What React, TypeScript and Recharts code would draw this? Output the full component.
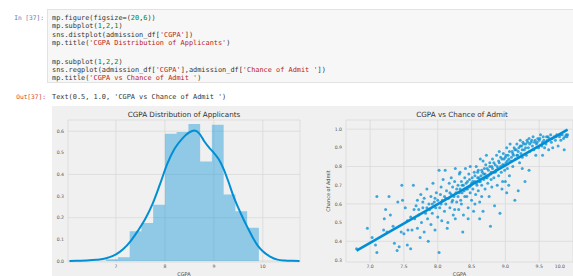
import {
  ComposedChart,
  Area,
  Line,
  ScatterChart,
  Scatter,
  XAxis,
  YAxis,
  CartesianGrid,
} from 'recharts';

// histogram of CGPA (density), 13 bins of 0.24
const binEdges = [6.8, 7.04, 7.28, 7.52, 7.76, 8.0, 8.24, 8.48, 8.72, 8.96, 9.2, 9.44, 9.68, 9.92];
const binDensity = [0.008, 0.017, 0.137, 0.176, 0.26, 0.588, 0.597, 0.634, 0.46, 0.63, 0.307, 0.23, 0.153];

// kde curve
const kdeX = [6.05, 6.2, 6.4, 6.6, 6.8, 7.0, 7.15, 7.3, 7.45, 7.6, 7.75, 7.9, 8.05, 8.2, 8.35, 8.5, 8.6, 8.7, 8.8, 8.9, 9.0, 9.1, 9.2, 9.3, 9.4, 9.5, 9.6, 9.7, 9.8, 9.9, 10.0, 10.15, 10.3, 10.45, 10.6, 10.75];
const kdeY = [0.0, 0.001, 0.002, 0.005, 0.012, 0.03, 0.055, 0.092, 0.14, 0.195, 0.265, 0.355, 0.45, 0.52, 0.565, 0.595, 0.603, 0.59, 0.555, 0.525, 0.5, 0.47, 0.425, 0.365, 0.3, 0.245, 0.195, 0.15, 0.106, 0.07, 0.045, 0.02, 0.006, 0.002, 0.0005, 0.0];

const distXTicks = [7, 8, 9, 10];
const distYTicks = [0, 0.1, 0.2, 0.3, 0.4, 0.5, 0.6];

// CGPA vs Chance of Admit
const admitPoints: [number, number][] = [
  [6.8, 0.36], [6.96, 0.47], [7.03, 0.42], [7.08, 0.38], [7.1, 0.64], [7.1, 0.34], [7.2, 0.46], [7.21, 0.52],
  [7.23, 0.57], [7.25, 0.45], [7.28, 0.64], [7.3, 0.54], [7.34, 0.48], [7.36, 0.39], [7.4, 0.35], [7.41, 0.61],
  [7.43, 0.37], [7.46, 0.45], [7.47, 0.7], [7.48, 0.62], [7.5, 0.44], [7.52, 0.58], [7.55, 0.38], [7.56, 0.46],
  [7.6, 0.36], [7.62, 0.46], [7.64, 0.7], [7.65, 0.57], [7.66, 0.52], [7.68, 0.59], [7.7, 0.47], [7.7, 0.62],
  [7.72, 0.54], [7.74, 0.42], [7.75, 0.65], [7.76, 0.5], [7.78, 0.58], [7.8, 0.45], [7.8, 0.63], [7.82, 0.55],
  [7.84, 0.68], [7.85, 0.52], [7.86, 0.4], [7.87, 0.6], [7.88, 0.57], [7.9, 0.64], [7.9, 0.49], [7.92, 0.55],
  [7.93, 0.71], [7.95, 0.61], [7.96, 0.46], [7.97, 0.58], [7.98, 0.66], [8.0, 0.53], [8.0, 0.62], [8.02, 0.34],
  [8.02, 0.78], [8.03, 0.58], [8.04, 0.65], [8.05, 0.69], [8.06, 0.51], [8.07, 0.62], [8.08, 0.73], [8.1, 0.56],
  [8.1, 0.64], [8.11, 0.78], [8.12, 0.6], [8.13, 0.67], [8.14, 0.47], [8.15, 0.5], [8.16, 0.63], [8.17, 0.71],
  [8.18, 0.58], [8.2, 0.65], [8.2, 0.74], [8.21, 0.61], [8.22, 0.69], [8.23, 0.54], [8.24, 0.64], [8.25, 0.72],
  [8.26, 0.52], [8.26, 0.79], [8.27, 0.66], [8.28, 0.61], [8.3, 0.7], [8.3, 0.64], [8.31, 0.57], [8.32, 0.76],
  [8.33, 0.68], [8.33, 0.77], [8.34, 0.62], [8.35, 0.72], [8.36, 0.66], [8.37, 0.45], [8.38, 0.54], [8.38, 0.7],
  [8.4, 0.64], [8.4, 0.74], [8.41, 0.79], [8.42, 0.68], [8.43, 0.64], [8.44, 0.72], [8.45, 0.58], [8.46, 0.76],
  [8.47, 0.69], [8.48, 0.66], [8.48, 0.8], [8.5, 0.71], [8.5, 0.62], [8.51, 0.74], [8.52, 0.68], [8.53, 0.56],
  [8.54, 0.77], [8.55, 0.72], [8.56, 0.65], [8.57, 0.8], [8.58, 0.7], [8.59, 0.74], [8.6, 0.67], [8.6, 0.78],
  [8.61, 0.72], [8.62, 0.61], [8.62, 0.52], [8.63, 0.84], [8.64, 0.75], [8.65, 0.7], [8.66, 0.77], [8.67, 0.56],
  [8.67, 0.83], [8.68, 0.73], [8.69, 0.79], [8.7, 0.68], [8.7, 0.76], [8.71, 0.81], [8.72, 0.86], [8.73, 0.74],
  [8.74, 0.71], [8.75, 0.78], [8.76, 0.64], [8.77, 0.82], [8.78, 0.76], [8.78, 0.48], [8.79, 0.73], [8.8, 0.8],
  [8.8, 0.69], [8.81, 0.84], [8.82, 0.77], [8.83, 0.74], [8.84, 0.59], [8.85, 0.81], [8.86, 0.78], [8.87, 0.86],
  [8.88, 0.7], [8.89, 0.79], [8.9, 0.83], [8.9, 0.75], [8.91, 0.88], [8.92, 0.55], [8.93, 0.8], [8.94, 0.77],
  [8.95, 0.84], [8.96, 0.72], [8.97, 0.87], [8.98, 0.81], [8.99, 0.78], [9.0, 0.72], [9.0, 0.85], [9.01, 0.82],
  [9.02, 0.9], [9.02, 0.66], [9.03, 0.79], [9.04, 0.86], [9.05, 0.84], [9.06, 0.75], [9.07, 0.92], [9.08, 0.83],
  [9.1, 0.88], [9.11, 0.8], [9.12, 0.86], [9.13, 0.9], [9.14, 0.62], [9.15, 0.84], [9.16, 0.89], [9.17, 0.92],
  [9.18, 0.86], [9.19, 0.67], [9.2, 0.9], [9.21, 0.82], [9.22, 0.94], [9.23, 0.87], [9.24, 0.91], [9.25, 0.85],
  [9.26, 0.93], [9.28, 0.89], [9.29, 0.72], [9.3, 0.92], [9.31, 0.86], [9.32, 0.94], [9.34, 0.9], [9.35, 0.95],
  [9.36, 0.88], [9.38, 0.93], [9.4, 0.91], [9.41, 0.96], [9.42, 0.89], [9.44, 0.94], [9.45, 0.86], [9.46, 0.92],
  [9.48, 0.95], [9.49, 0.9], [9.5, 0.94], [9.52, 0.97], [9.54, 0.91], [9.55, 0.93], [9.56, 0.96], [9.58, 0.9],
  [9.6, 0.92], [9.61, 0.96], [9.62, 0.94], [9.64, 0.89], [9.65, 0.95], [9.67, 0.97], [9.68, 0.93], [9.7, 0.9],
  [9.72, 0.96], [9.74, 0.94], [9.76, 0.97], [9.78, 0.91], [9.8, 0.96], [9.82, 0.94], [9.84, 0.97], [9.86, 0.95],
  [9.87, 0.89], [9.9, 0.97], [9.91, 0.96], [9.92, 0.97],
  // denser band along the fit
  [8.05, 0.6], [8.12, 0.63], [8.18, 0.66], [8.22, 0.62], [8.28, 0.68], [8.32, 0.66], [8.36, 0.7], [8.39, 0.67],
  [8.42, 0.71], [8.44, 0.68], [8.47, 0.73], [8.49, 0.7], [8.52, 0.72], [8.55, 0.75], [8.57, 0.71], [8.59, 0.77],
  [8.61, 0.74], [8.63, 0.72], [8.65, 0.78], [8.68, 0.76], [8.71, 0.74], [8.73, 0.79], [8.75, 0.75], [8.77, 0.8],
  [8.79, 0.77], [8.81, 0.79], [8.83, 0.82], [8.85, 0.77], [8.88, 0.8], [8.91, 0.82], [8.93, 0.85], [8.96, 0.81],
  [8.98, 0.84], [9.01, 0.86], [9.03, 0.83], [9.06, 0.88], [9.09, 0.85], [9.11, 0.87], [9.14, 0.89], [9.17, 0.86],
  [9.19, 0.88], [9.22, 0.91], [9.25, 0.89], [9.27, 0.92], [9.3, 0.9], [9.33, 0.93], [9.36, 0.92], [9.39, 0.94],
  [9.43, 0.93], [9.47, 0.93], [9.51, 0.95], [9.57, 0.94], [9.63, 0.96], [9.69, 0.95], [9.75, 0.96], [9.81, 0.97],
  [9.88, 0.96], [7.92, 0.6], [7.96, 0.63], [7.84, 0.58], [7.78, 0.61], [7.72, 0.57], [7.6, 0.53], [7.55, 0.51],
  [8.45, 0.52], [8.55, 0.6], [8.65, 0.64], [8.95, 0.68], [9.05, 0.7], [9.35, 0.78], [9.55, 0.86], [9.25, 0.79],
  [8.35, 0.6], [8.25, 0.57],
];
const fitX = [6.8, 9.92];
const fitY = [0.35, 0.997];

const regXTicks = [7, 7.5, 8, 8.5, 9, 9.5, 10];
const regYTicks = [0.3, 0.4, 0.5, 0.6, 0.7, 0.8, 0.9, 1.0];

// one table for hist + kde (nulls connected per series)
const distRows = new Map<number, { x: number; hist?: number; kde?: number }>();
binEdges.forEach((e, i) => {
  distRows.set(e, { x: e, hist: binDensity[Math.min(i, binDensity.length - 1)] });
});
kdeX.forEach((x, i) => {
  const row = distRows.get(x) ?? { x };
  row.kde = kdeY[i];
  distRows.set(x, row);
});
const distTable = [...distRows.values()].sort((a, b) => a.x - b.x);

const scatterData = admitPoints.map(([x, y]) => ({ x, y }));
const fitData = fitX.map((x, i) => ({ x, y: fitY[i] }));

const BLUE = '#008fd5';
const FIG_BG = '#f0f0f0';
const tickStyle = { fill: '#555', fontSize: 4.6, fontFamily: 'DejaVu Sans' };

const MONO = '"DejaVu Sans Mono", monospace';
const STR = '#ba2121';
const NUM = '#008800';

type Seg = [string, string?];
const codeBlockA: Seg[][] = [
  [['mp.figure(figsize=('], ['20', NUM], [','], ['6', NUM], ['))']],
  [['mp.subplot('], ['1', NUM], [','], ['2', NUM], [','], ['1', NUM], [')']],
  [['sns.distplot(admission_df['], ["'CGPA'", STR], ['])']],
  [['mp.title('], ["'CGPA Distribution of Applicants'", STR], [')']],
];
const codeBlockB: Seg[][] = [
  [['mp.subplot('], ['1', NUM], [','], ['2', NUM], [','], ['2', NUM], [')']],
  [['sns.regplot(admission_df['], ["'CGPA'", STR], ['],admission_df['], ["'Chance of Admit '", STR], ['])']],
  [['mp.title('], ["'CGPA vs Chance of Admit '", STR], [')']],
];

function CodeLines({ lines, top }: { lines: Seg[][]; top: number }) {
  return (
    <div style={{ position: 'absolute', left: 52, top, fontFamily: MONO, fontSize: 6.9, lineHeight: '8.4px', color: '#333', whiteSpace: 'pre' }}>
      {lines.map((segs, i) => (
        <div key={i}>
          {segs.map(([t, c], j) => (
            <span key={j} style={{ color: c ?? '#333' }}>{t}</span>
          ))}
        </div>
      ))}
    </div>
  );
}

// last x tick sits on the page edge, so anchor it to the right
function RegXTick(props: any) {
  const { x, y, payload } = props;
  const last = payload.value === regXTicks[regXTicks.length - 1];
  return (
    <text x={x} y={y} dy="0.71em" textAnchor={last ? 'end' : 'middle'} {...tickStyle}>
      {payload.value.toFixed(1)}
    </text>
  );
}

export default function App() {
  return (
    <div style={{ position: 'absolute', left: 0, top: 0, width: 573, height: 276, background: '#fff', overflow: 'hidden' }}>
      {/* input cell */}
      <div style={{ position: 'absolute', left: 8, top: 14, width: 36, textAlign: 'right', fontFamily: MONO, fontSize: 6.2, color: '#5f6fa8' }}>
        In [37]:
      </div>
      <div style={{ position: 'absolute', left: 47, top: 9, width: 530, height: 74, background: '#f7f7f7', border: '1px solid #e2e2e2', boxSizing: 'border-box' }} />
      <CodeLines lines={codeBlockA} top={14} />
      <CodeLines lines={codeBlockB} top={57.5} />

      {/* output */}
      <div style={{ position: 'absolute', left: 8, top: 93, width: 38, textAlign: 'right', fontFamily: MONO, fontSize: 6.2, color: '#d84315' }}>
        Out[37]:
      </div>
      <div style={{ position: 'absolute', left: 52, top: 93, fontFamily: MONO, fontSize: 6.9, color: '#333', whiteSpace: 'pre' }}>
        Text(0.5, 1.0, 'CGPA vs Chance of Admit ')
      </div>

      {/* figure */}
      <div style={{ position: 'absolute', left: 52, top: 106, width: 530, height: 170, background: FIG_BG }} />

      <div style={{ position: 'absolute', left: 52, top: 106 }}>
        <ComposedChart width={250} height={170} data={distTable} margin={{ top: 14, right: 2, bottom: 0, left: 0 }}>
          <CartesianGrid stroke="#d9d9d9" strokeWidth={0.8} fill={FIG_BG} />
          <XAxis
            dataKey="x"
            type="number"
            domain={[6.02, 10.76]}
            ticks={distXTicks}
            tick={tickStyle}
            axisLine={false}
            tickLine={false}
            tickSize={2}
            tickMargin={1}
            height={14}
            label={{ value: 'CGPA', position: 'insideBottom', offset: 0, style: { fill: '#444', fontSize: 5, fontFamily: 'DejaVu Sans' } }}
          />
          <YAxis
            type="number"
            domain={[-0.005, 0.652]}
            ticks={distYTicks}
            tickFormatter={(v: number) => v.toFixed(1)}
            tick={tickStyle}
            axisLine={false}
            tickLine={false}
            tickSize={2}
            tickMargin={2}
            width={16}
          />
          <Area
            dataKey="hist"
            type="stepAfter"
            connectNulls
            stroke="none"
            fill={BLUE}
            fillOpacity={0.4}
            isAnimationActive={false}
          />
          <Line
            dataKey="kde"
            type="monotone"
            connectNulls
            stroke={BLUE}
            strokeWidth={2}
            dot={false}
            isAnimationActive={false}
          />
        </ComposedChart>
      </div>

      <div style={{ position: 'absolute', left: 302, top: 106 }}>
        <ScatterChart width={271} height={170} margin={{ top: 14, right: 0, bottom: 0, left: 0 }}>
          <CartesianGrid stroke="#d9d9d9" strokeWidth={0.8} fill={FIG_BG} />
          <XAxis
            dataKey="x"
            type="number"
            domain={[6.644, 10.0]}
            ticks={regXTicks}
            tick={<RegXTick />}
            axisLine={false}
            tickLine={false}
            tickSize={2}
            tickMargin={1}
            height={14}
            allowDataOverflow
            label={{ value: 'CGPA', position: 'insideBottom', offset: 0, style: { fill: '#444', fontSize: 5, fontFamily: 'DejaVu Sans' } }}
          />
          <YAxis
            dataKey="y"
            type="number"
            domain={[0.289, 1.049]}
            ticks={regYTicks}
            tickFormatter={(v: number) => v.toFixed(1)}
            tick={tickStyle}
            axisLine={false}
            tickLine={false}
            tickSize={2}
            tickMargin={2}
            width={44}
            label={{ value: 'Chance of Admit', angle: -90, position: 'center', dx: 4, style: { fill: '#444', fontSize: 5, fontFamily: 'DejaVu Sans' } }}
          />
          <Scatter
            data={scatterData}
            isAnimationActive={false}
            shape={(p: any) => <circle cx={p.cx} cy={p.cy} r={1.5} fill={BLUE} fillOpacity={0.75} />}
          />
          <Scatter
            data={fitData}
            line={{ stroke: BLUE, strokeWidth: 2.6 }}
            isAnimationActive={false}
            shape={() => <g />}
          />
        </ScatterChart>
      </div>

      {/* titles */}
      <div style={{ position: 'absolute', left: 68, top: 111, width: 232, textAlign: 'center', fontFamily: 'DejaVu Sans', fontSize: 7.2, lineHeight: 1, color: '#333' }}>
        CGPA Distribution of Applicants
      </div>
      <div style={{ position: 'absolute', left: 346, top: 111, width: 232, textAlign: 'center', fontFamily: 'DejaVu Sans', fontSize: 7.2, lineHeight: 1, color: '#333' }}>
        CGPA vs Chance of Admit
      </div>
    </div>
  );
}
